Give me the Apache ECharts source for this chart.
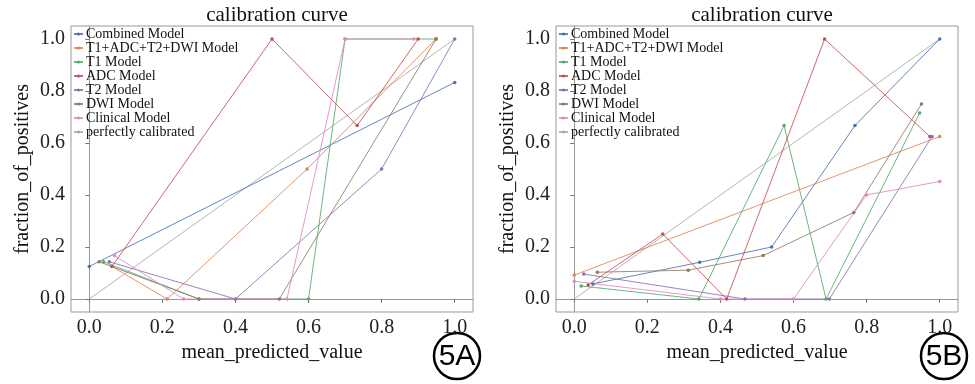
<!DOCTYPE html>
<html><head><meta charset="utf-8">
<script src="https://cdn.jsdelivr.net/npm/echarts@6/dist/echarts.min.js"></script>
<style>html,body{margin:0;padding:0;background:#fff}#c{width:975px;height:384px}</style>
</head><body><div id="c"></div>
<script>
// ---- data ----
var seriesNames = ['Combined Model','T1+ADC+T2+DWI Model','T1 Model','ADC Model','T2 Model','DWI Model','Clinical Model','perfectly calibrated'];
var tickValues = [0, 0.2, 0.4, 0.6, 0.8, 1.0];
var perfect = [[0, 0], [1, 1]];
// Panel 5A
var combinedA = [[0.0,0.125],[1.0,0.833]];
var fullA     = [[0.062,0.125],[0.213,0.0],[0.596,0.5],[0.949,1.0]];
var t1A       = [[0.039,0.143],[0.3,0.0],[0.6,0.0],[0.7,1.0],[0.949,1.0]];
var adcA      = [[0.062,0.125],[0.5,1.0],[0.733,0.667],[0.9,1.0]];
var t2A       = [[0.055,0.143],[0.4,0.0],[0.8,0.5],[1.0,1.0]];
var dwiA      = [[0.027,0.143],[0.3,0.0],[0.52,0.0],[0.949,1.0]];
var clinA     = [[0.069,0.167],[0.258,0.0],[0.541,0.0],[0.7,1.0],[0.888,1.0]];
// Panel 5B
var combinedB = [[0.051,0.058],[0.343,0.141],[0.54,0.2],[0.768,0.667],[1.0,1.0]];
var fullB     = [[0.0,0.092],[1.0,0.625]];
var t1B       = [[0.019,0.05],[0.341,0.0],[0.574,0.667],[0.689,0.0],[0.945,0.715]];
var adcB      = [[0.038,0.054],[0.242,0.25],[0.417,0.0],[0.685,1.0],[0.973,0.625]];
var t2B       = [[0.026,0.096],[0.467,0.0],[0.698,0.0],[0.979,0.625]];
var dwiB      = [[0.063,0.103],[0.312,0.111],[0.517,0.167],[0.765,0.333],[0.95,0.75]];
var clinB     = [[0.0,0.068],[0.4,0.0],[0.6,0.0],[0.8,0.4],[1.0,0.452]];
var panelLabels = ['5A', '5B'];

// ---- styles ----
var colors = ['#4c72b0','#dd8452','#55a868','#c44e52','#8172b3','#937860','#da8bc3','#a8a8a8'];
var FONT = 'Liberation Serif';
var dataA = [combinedA, fullA, t1A, adcA, t2A, dwiA, clinA, perfect];
var dataB = [combinedB, fullB, t1B, adcB, t2B, dwiB, clinB, perfect];

function mkSeries(data, idx) {
  return data.map(function (d, i) {
    var isPerf = i === 7;
    return {
      name: seriesNames[i], type: 'line', xAxisIndex: idx, yAxisIndex: idx,
      data: d, symbol: 'circle', symbolSize: 3.5,
      showSymbol: !isPerf,
      lineStyle: { width: 1, color: colors[i], opacity: 0.85 },
      itemStyle: { color: colors[i] },
      emphasis: { disabled: true }, animation: false, z: isPerf ? 1 : 2
    };
  });
}
var labelStyle = { fontFamily: FONT, fontSize: 20, color: '#222' };
function xAx(idx) {
  return {
    gridIndex: idx, type: 'value', min: -0.05, max: 1.05,
    name: 'mean_predicted_value', nameLocation: 'middle', nameGap: 22,
    nameTextStyle: { fontFamily: FONT, fontSize: 20, color: '#111' },
    axisLine: { show: true, lineStyle: { color: '#999' } },
    axisTick: { show: true, inside: false, length: 4, customValues: tickValues, lineStyle: { color: '#777' } },
    axisLabel: Object.assign({ customValues: tickValues, formatter: function (v) { return v.toFixed(1); }, margin: 6 }, labelStyle),
    splitLine: { show: false }
  };
}
function yAx(idx) {
  return {
    gridIndex: idx, type: 'value', min: -0.05, max: 1.05,
    name: 'fraction_of_positives', nameLocation: 'middle', nameGap: 38,
    nameTextStyle: { fontFamily: FONT, fontSize: 20, color: '#111' },
    axisLine: { show: true, lineStyle: { color: '#999' } },
    axisTick: { show: true, inside: false, length: 4, customValues: tickValues, lineStyle: { color: '#777' } },
    axisLabel: Object.assign({ customValues: tickValues, formatter: function (v) { return v.toFixed(1); }, margin: 6 }, labelStyle),
    splitLine: { show: false }
  };
}
function legend(left) {
  return {
    data: seriesNames.map(function (n) { return { name: n }; }),
    orient: 'vertical', left: left, top: 27, itemGap: 0, itemWidth: 9, itemHeight: 4,
    padding: 0, textStyle: { fontFamily: FONT, fontSize: 14, color: '#111', lineHeight: 11.7, padding: [0, 0, 0, -2] },
    selectedMode: false
  };
}

var chart = echarts.init(document.getElementById('c'), null, { renderer: 'canvas' });
var grids = [
  { left: 71, top: 26, width: 402, height: 286, show: true, borderColor: '#999', borderWidth: 1, backgroundColor: 'transparent' },
  { left: 556, top: 26, width: 402, height: 286, show: true, borderColor: '#999', borderWidth: 1, backgroundColor: 'transparent' }
];
var option = {
  backgroundColor: '#fff',
  animation: false,
  textStyle: { fontFamily: FONT },
  title: [
    { text: 'calibration curve', left: 272, top: 0, textAlign: 'center', textStyle: { fontFamily: FONT, fontSize: 21, fontWeight: 'normal', color: '#111' } },
    { text: 'calibration curve', left: 757, top: 0, textAlign: 'center', textStyle: { fontFamily: FONT, fontSize: 21, fontWeight: 'normal', color: '#111' } }
  ],
  legend: [legend(73), legend(558)],
  grid: grids,
  xAxis: [xAx(0), xAx(1)],
  yAxis: [yAx(0), yAx(1)],
  series: mkSeries(dataA, 0).concat(mkSeries(dataB, 1)),
  graphic: [
    { type: 'circle', shape: { cx: 457, cy: 356, r: 23 }, style: { fill: 'none', stroke: '#000', lineWidth: 2.5 } },
    { type: 'text', x: 457, y: 357, style: { text: panelLabels[0], fontFamily: 'Liberation Sans', fontSize: 30, fill: '#000', align: 'center', verticalAlign: 'middle' } },
    { type: 'circle', shape: { cx: 944, cy: 356, r: 23 }, style: { fill: 'none', stroke: '#000', lineWidth: 2.5 } },
    { type: 'text', x: 944, y: 357, style: { text: panelLabels[1], fontFamily: 'Liberation Sans', fontSize: 30, fill: '#000', align: 'center', verticalAlign: 'middle' } }
  ]
};
chart.setOption(option);
</script></body></html>
